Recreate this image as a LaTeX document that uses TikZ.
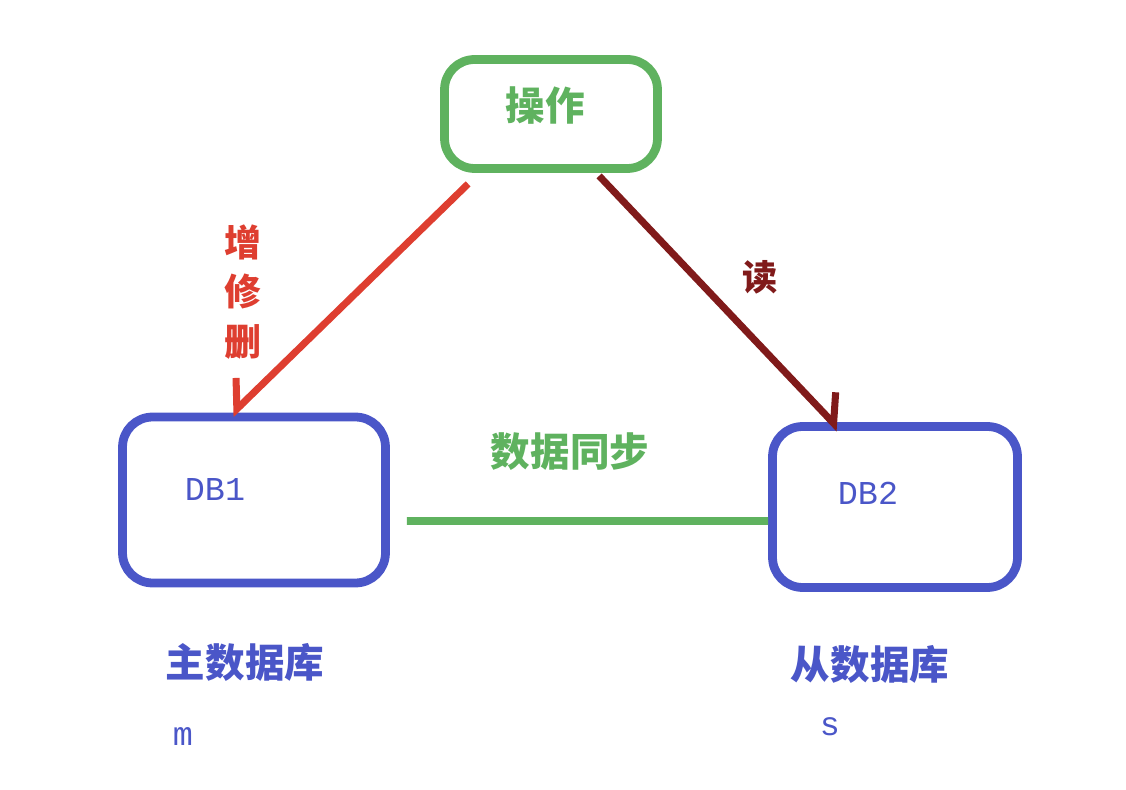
\documentclass[tikz,border=0pt]{standalone}
\usepackage{fontspec}
\setmainfont{Liberation Mono}
\newfontfamily\cjk{Noto Sans CJK SC}
\usetikzlibrary{arrows.meta}
\definecolor{opgreen}{RGB}{95,178,95}
\definecolor{dbblue}{RGB}{74,86,200}
\definecolor{wred}{RGB}{222,62,48}
\definecolor{rdarkred}{RGB}{128,26,26}
\tikzset{
    dbbox/.style={rectangle, rounded corners=0.6cm, draw=dbblue, line width=5pt},
    opbox/.style={rectangle, rounded corners=0.6cm, draw=opgreen, line width=5pt},
    cjktext/.style={font=\cjk\bfseries\fontsize{22.5pt}{26pt}\selectfont},
    dbtext/.style={font=\fontsize{19pt}{22pt}\selectfont, text=dbblue}
}
\begin{document}
\begin{tikzpicture}[x=0.02cm,y=-0.02cm]
        \useasboundingbox (0,0) rectangle (1126,790);
        \node[opbox, minimum width=4.26cm, minimum height=2.18cm] (op) at (551,114) {};
        \node[cjktext, text=opgreen] (oplabel) at (545,106) {操作};
        \node[dbbox, minimum width=5.26cm, minimum height=3.32cm] (db1) at (254,500) {};
        \node[dbtext] (db1label) at (215,490) {DB1};
        \node[dbbox, minimum width=4.9cm, minimum height=3.22cm] (db2) at (895,507) {};
        \node[dbtext] (db2label) at (868,493) {DB2};
        \node[cjktext, text=dbblue] (master) at (245,662) {主数据库};
        \node[dbtext] (m) at (183,737) {m};
        \node[cjktext, text=dbblue] (slave) at (870,664) {从数据库};
        \node[dbtext] (s) at (830,727) {s};
        \draw[wred, line width=4pt, -{Straight Barb[right, length=12pt, width=26pt]}]
            ([xshift=0.56cm, yshift=-0.22cm]op.south west) -- ([xshift=2.26cm, yshift=-0.04cm]db1.north west);
        \draw[rdarkred, line width=4pt, -{Straight Barb[left, length=12pt, width=26pt]}]
            ([xshift=3.18cm, yshift=-0.06cm]op.south west) -- ([xshift=1.42cm, yshift=-0.14cm]db2.north west);
        \draw[opgreen, line width=4.5pt] ([shift={(0.34cm,-0.42cm)}]db1.east) -- ([yshift=-0.28cm]db2.west);
        \node[cjktext, text=wred, align=center, font=\cjk\bfseries\fontsize{21pt}{28pt}\selectfont] (write) at (243,292) {增\\修\\删};
        \node[cjktext, text=rdarkred, font=\cjk\bfseries\fontsize{20pt}{22pt}\selectfont] (read) at (760,277) {读};
        \node[cjktext, text=opgreen] (sync) at (570,452) {数据同步};
    \end{tikzpicture}
\end{document}
